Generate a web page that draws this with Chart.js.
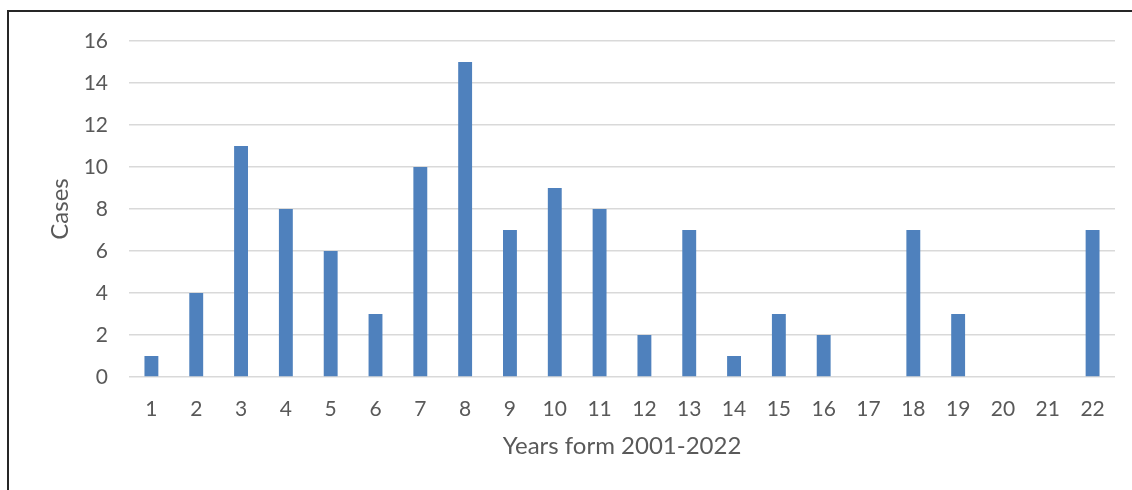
<!DOCTYPE html>
<html>
<head>
<meta charset="utf-8">
<script src="https://cdn.jsdelivr.net/npm/chart.js@4/dist/chart.umd.min.js"></script>
<style>
  html, body { margin: 0; padding: 0; background: #ffffff; }
  #wrap { position: relative; width: 1132px; height: 490px; }
  canvas { display: block; }
</style>
</head>
<body>
<div id="wrap"><canvas id="chart" width="1132" height="490"></canvas></div>
<script>
// Case counts per year, 2001 (1) through 2022 (22)
const yearLabels = ['1','2','3','4','5','6','7','8','9','10','11','12','13','14','15','16','17','18','19','20','21','22'];
const caseCounts = [1, 4, 11, 8, 6, 3, 10, 15, 7, 9, 8, 2, 7, 1, 3, 2, 0, 7, 3, 0, 0, 7];
const yTicks = [0, 2, 4, 6, 8, 10, 12, 14, 16];

const textColor = '#595959';
const fontFamily = 'Lato, "Open Sans", "Liberation Sans", sans-serif';

// Thin frame along the top and left edges of the figure
const framePlugin = {
  id: 'frame',
  afterDraw(chart) {
    const ctx = chart.ctx;
    ctx.save();
    ctx.fillStyle = '#262626';
    ctx.fillRect(7, 10, 2, chart.height - 10);
    ctx.fillRect(7, 10, chart.width - 7, 2);
    ctx.restore();
  }
};

new Chart(document.getElementById('chart'), {
  type: 'bar',
  data: {
    labels: yearLabels,
    datasets: [{
      label: 'Cases',
      data: caseCounts,
      backgroundColor: '#4F81BD',
      borderWidth: 0,
      categoryPercentage: 1.0,
      barPercentage: 0.31
    }]
  },
  options: {
    responsive: false,
    animation: false,
    events: [],
    layout: { padding: { left: 0, right: 17, top: 41, bottom: 0 } },
    plugins: {
      legend: { display: false },
      tooltip: { enabled: false }
    },
    scales: {
      x: {
        grid: { display: false, drawTicks: false },
        border: { display: false },
        ticks: {
          color: textColor,
          font: { family: fontFamily, size: 21 },
          padding: 20,
          maxRotation: 0,
          autoSkip: false
        },
        title: {
          display: true,
          text: 'Years form 2001-2022',
          color: textColor,
          font: { family: fontFamily, size: 24 },
          padding: { top: 12, bottom: 29 }
        },
        afterFit(scale) { scale.height = 113; }
      },
      y: {
        min: 0,
        max: 16,
        afterBuildTicks(scale) { scale.ticks = yTicks.map(v => ({ value: v })); },
        grid: { color: '#d9d9d9', lineWidth: 1.5, drawTicks: false },
        border: { display: false },
        ticks: {
          color: textColor,
          font: { family: fontFamily, size: 21 },
          padding: 21
        },
        title: {
          display: true,
          text: 'Cases',
          color: textColor,
          font: { family: fontFamily, size: 24 },
          padding: { top: 46, bottom: 0 }
        },
        afterFit(scale) { scale.width = 129; }
      }
    }
  },
  plugins: [framePlugin]
});
</script>
</body>
</html>
